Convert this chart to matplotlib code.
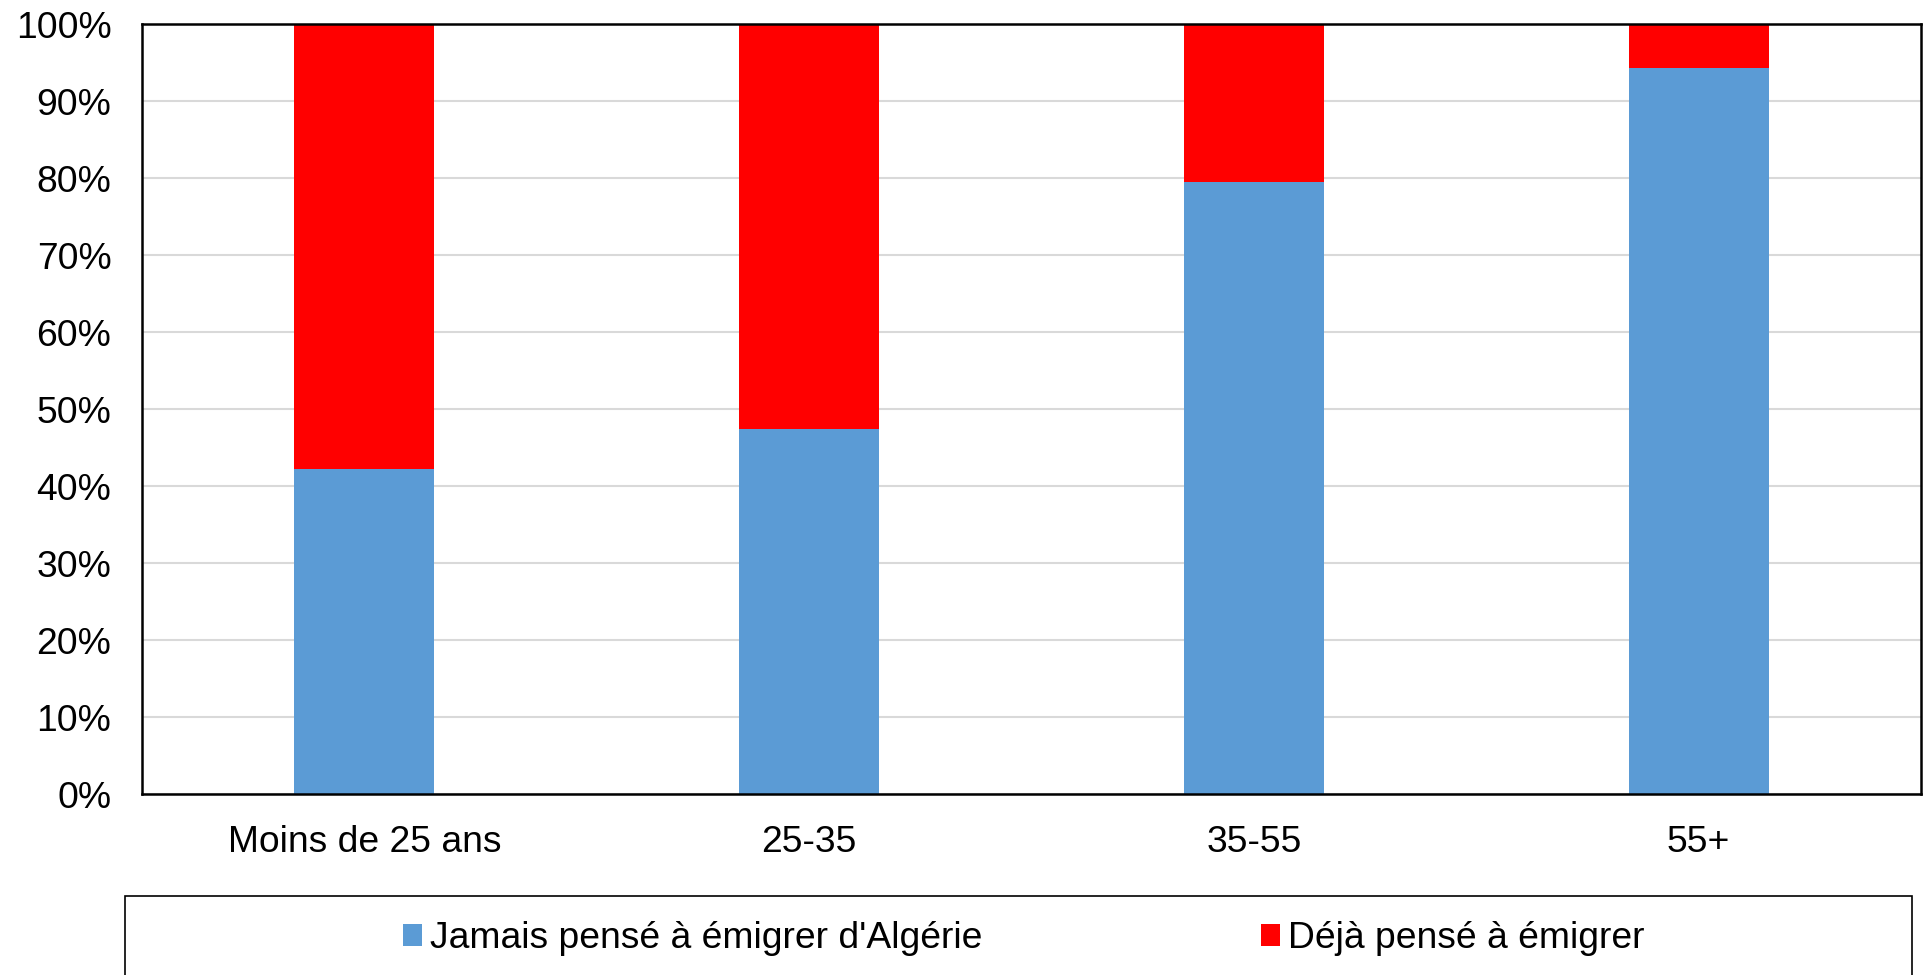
import numpy as np
import matplotlib.pyplot as plt
from matplotlib.patches import Rectangle

plt.rcParams['font.family'] = ['Liberation Sans', 'DejaVu Sans']

categories = ['Moins de 25 ans', '25-35', '35-55', '55+']
jamais = [42.3, 47.4, 79.5, 94.4]
deja = [57.7, 52.6, 20.5, 5.6]
series_names = ["Jamais pensé à émigrer d'Algérie", 'Déjà pensé à émigrer']

fig = plt.figure(figsize=(19.24, 9.75), dpi=100)
ax = fig.add_axes([0.0738, 0.1856, 0.9246, 0.7893])

x = np.arange(len(categories))
width = 0.315
b1 = ax.bar(x, jamais, width, color='#5b9bd5', label=series_names[0], zorder=2)
b2 = ax.bar(x, deja, width, bottom=jamais, color='#ff0000', label=series_names[1], zorder=2)

ax.set_xlim(-0.5, len(categories) - 0.5)
ax.set_ylim(0, 100)
ax.set_yticks(np.arange(0, 101, 10))
ax.set_yticklabels([f'{v}%' for v in range(0, 101, 10)])
ax.set_xticks(x)
ax.set_xticklabels(categories)
ax.tick_params(axis='both', length=0, labelsize=26.8, colors='black')
ax.tick_params(axis='x', pad=22)
ax.tick_params(axis='y', pad=22)
ax.yaxis.grid(True, color='#d9d9d9', linewidth=1.5, zorder=0)
ax.set_axisbelow(True)
for s in ax.spines.values():
    s.set_color('black')
    s.set_linewidth(1.8)

# legend box
fig.patches.append(Rectangle((0.065, -0.02), 0.9286, 0.101, transform=fig.transFigure,
                             facecolor='white', edgecolor='black', linewidth=1.2))
fig.legend(handles=[b1, b2], labels=series_names, loc='center', bbox_to_anchor=(0.532, 0.0372),
           ncol=2, frameon=False, fontsize=26.8, handlelength=0.52, handleheight=0.52,
           handletextpad=0.2, columnspacing=7.5)

fig.savefig('out.png', dpi=100)
